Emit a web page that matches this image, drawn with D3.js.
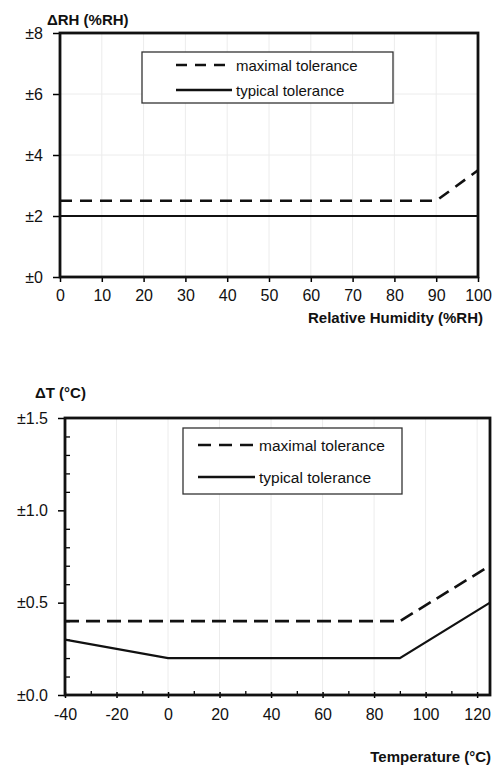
<!DOCTYPE html>
<html>

<head>
    <meta charset="UTF-8">
    <title>RH and T tolerance</title>
    <script src="https://d3js.org/d3.v7.min.js"></script>
    <style>
        body { margin: 0; background: #fff; }
        text { font-family: "Liberation Sans", Arial, sans-serif; fill: #111; }
    </style>
</head>

<body>
    <script>
        // humidity chart data
        const rhTickValues = [0, 10, 20, 30, 40, 50, 60, 70, 80, 90, 100];
        const rhYTicks = [0, 2, 4, 6, 8];
        const rhYLabels = ["±0", "±2", "±4", "±6", "±8"];
        const rhMaxX = [0, 90, 100];
        const rhMaxY = [2.5, 2.5, 3.5];
        const rhTypX = [0, 100];
        const rhTypY = [2, 2];

        // temperature chart data
        const tTickValues = [-40, -20, 0, 20, 40, 60, 80, 100, 120];
        const tYTicks = [0, 0.5, 1.0, 1.5];
        const tYLabels = ["±0.0", "±0.5", "±1.0", "±1.5"];
        const tMaxX = [-40, 90, 125];
        const tMaxY = [0.4, 0.4, 0.7];
        const tTypX = [-40, 0, 90, 125];
        const tTypY = [0.3, 0.2, 0.2, 0.5];

        const legendNames = ["maximal tolerance", "typical tolerance"];

        const svg = d3.select("body").append("svg")
            .attr("width", 493).attr("height", 767);

        function drawChart(o) {
            const x = d3.scaleLinear().domain(o.xDomain).range([o.left, o.right]);
            const y = d3.scaleLinear().domain(o.yDomain).range([o.bottom, o.top]);
            const g = svg.append("g");

            // faint grid
            g.selectAll(".vg").data(o.xTicks).enter().append("line")
                .attr("x1", d => x(d)).attr("x2", d => x(d))
                .attr("y1", o.top).attr("y2", o.bottom)
                .attr("stroke", "#ececec").attr("stroke-width", 1);
            if (o.hGrid) {
                g.selectAll(".hg").data(o.yTicks).enter().append("line")
                    .attr("x1", o.left).attr("x2", o.right)
                    .attr("y1", d => y(d)).attr("y2", d => y(d))
                    .attr("stroke", "#ececec").attr("stroke-width", 1);
            }

            // minor ticks (inside)
            if (o.xMinor) {
                g.append("g").attr("transform", `translate(0,${o.bottom})`)
                    .call(d3.axisTop(x).tickValues(o.xMinor).tickSize(4).tickFormat(""))
                    .call(a => a.select(".domain").remove())
                    .call(a => a.selectAll("line").attr("stroke-width", 1.3));
                g.append("g").attr("transform", `translate(${o.left},0)`)
                    .call(d3.axisRight(y).tickValues(o.yMinor).tickSize(5).tickFormat(""))
                    .call(a => a.select(".domain").remove())
                    .call(a => a.selectAll("line").attr("stroke-width", 1.3));
            }

            // major ticks + labels (plain hyphen for negatives, like the original)
            const xa = g.append("g").attr("transform", `translate(0,${o.bottom})`)
                .call(d3.axisBottom(x).tickValues(o.xTicks).tickSizeInner(o.xTickLen).tickSizeOuter(0).tickPadding(o.xPad)
                    .tickFormat(d => String(d)));
            xa.select(".domain").remove();
            xa.selectAll("text").style("font-size", o.tickFont + "px").attr("fill", "#111");
            xa.selectAll("line").attr("stroke-width", 1.5);
            if (o.xCross) xa.selectAll("line").attr("y1", -3);

            const ya = g.append("g").attr("transform", `translate(${o.left},0)`)
                .call(d3.axisLeft(y).tickValues(o.yTicks).tickSizeInner(7).tickSizeOuter(0).tickPadding(10)
                    .tickFormat((d, i) => o.yLabels[i]));
            ya.select(".domain").remove();
            ya.selectAll("text").style("font-size", o.tickFont + "px").attr("fill", "#111");
            ya.selectAll("line").attr("stroke-width", 1.5);

            // data lines
            const line = d3.line().x(d => x(d[0])).y(d => y(d[1]));
            g.append("path")
                .attr("d", line(d3.zip(o.typX, o.typY)))
                .attr("fill", "none").attr("stroke", "#111").attr("stroke-width", 2.2);
            g.append("path")
                .attr("d", line(d3.zip(o.maxX, o.maxY)))
                .attr("fill", "none").attr("stroke", "#111").attr("stroke-width", 2.6)
                .attr("stroke-dasharray", o.dash);

            // frame
            g.append("rect")
                .attr("x", o.left).attr("y", o.top)
                .attr("width", o.right - o.left).attr("height", o.bottom - o.top)
                .attr("fill", "none").attr("stroke", "#111").attr("stroke-width", 2.8);

            // legend
            const lg = g.append("g");
            lg.append("rect")
                .attr("x", o.lg.x).attr("y", o.lg.y).attr("width", o.lg.w).attr("height", o.lg.h)
                .attr("fill", "#fff").attr("stroke", "#333").attr("stroke-width", 1.3);
            legendNames.forEach((name, i) => {
                const ly = o.lg.y + o.lg.row0 + i * o.lg.rowH;
                lg.append("line")
                    .attr("x1", o.lg.x + o.lg.s0).attr("x2", o.lg.x + o.lg.s1)
                    .attr("y1", ly).attr("y2", ly)
                    .attr("stroke", "#111").attr("stroke-width", 2.6)
                    .attr("stroke-dasharray", i === 0 ? o.lg.dash : null);
                lg.append("text")
                    .attr("x", o.lg.x + o.lg.s1 + 4).attr("y", ly + 5.5)
                    .style("font-size", o.lg.font + "px")
                    .text(name);
            });

            // axis titles
            g.append("text").attr("x", o.yTitle[0]).attr("y", o.yTitle[1])
                .style("font-size", "15px").style("font-weight", "bold").text(o.yTitleText);
            g.append("text").attr("x", o.xTitle[0]).attr("y", o.xTitle[1])
                .attr("text-anchor", "end")
                .style("font-size", "15px").style("font-weight", "bold").text(o.xTitleText);
        }

        drawChart({
            xDomain: [0, 100], yDomain: [0, 8],
            left: 60, right: 478, top: 33, bottom: 277,
            xTicks: rhTickValues, yTicks: rhYTicks, yLabels: rhYLabels,
            xTickLen: 5, xPad: 8, tickFont: 16, hGrid: true,
            maxX: rhMaxX, maxY: rhMaxY, typX: rhTypX, typY: rhTypY,
            dash: "12,8",
            lg: { x: 142, y: 52, w: 251, h: 51, row0: 13, rowH: 25, s0: 34, s1: 90, dash: "11,8", font: 15 },
            yTitle: [47, 25], yTitleText: "ΔRH (%RH)",
            xTitle: [483, 323], xTitleText: "Relative Humidity (%RH)"
        });

        drawChart({
            xDomain: [-40, 125], yDomain: [0, 1.5],
            left: 65, right: 490, top: 418, bottom: 695,
            xTicks: tTickValues, yTicks: tYTicks, yLabels: tYLabels,
            xTickLen: 3, xPad: 11, tickFont: 16, hGrid: false, xCross: true,
            xMinor: d3.range(-30, 125, 20), yMinor: d3.range(0.1, 1.5, 0.1).filter(v => Math.abs(v * 10 % 5) > 0.01),
            maxX: tMaxX, maxY: tMaxY, typX: tTypX, typY: tTypY,
            dash: "14,7",
            lg: { x: 183, y: 428, w: 219, h: 66, row0: 17, rowH: 32, s0: 15, s1: 72, dash: "13,8", font: 15.5 },
            yTitle: [35, 398], yTitleText: "ΔT (°C)",
            xTitle: [491, 762], xTitleText: "Temperature (°C)"
        });
    </script>
</body>

</html>
